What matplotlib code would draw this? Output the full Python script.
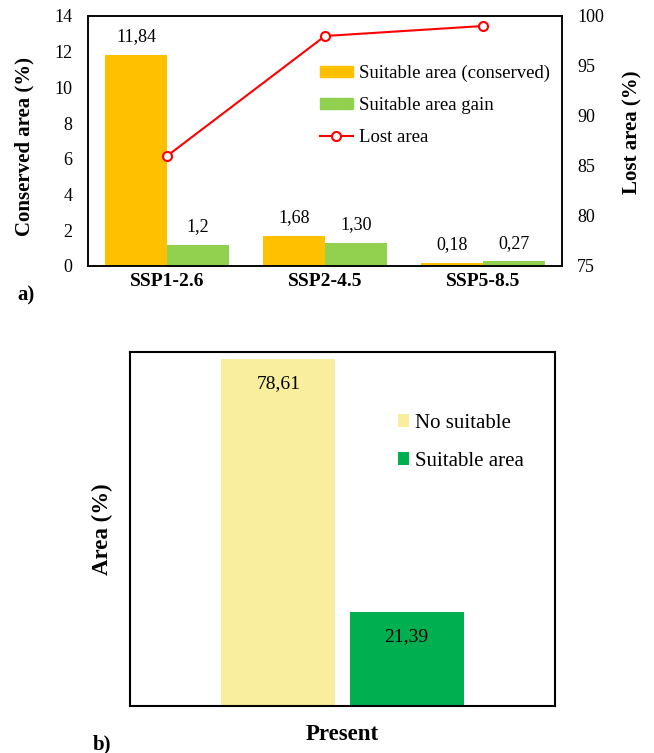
import matplotlib
matplotlib.use('Agg')
import matplotlib.pyplot as plt
from matplotlib.patches import Patch
from matplotlib.lines import Line2D

plt.rcParams['font.family'] = ['Liberation Serif', 'DejaVu Serif']

# panel a data
escenarios = ['SSP1-2.6', 'SSP2-4.5', 'SSP5-8.5']
conservada = [11.84, 1.68, 0.18]
ganancia = [1.2, 1.30, 0.27]
etiq_conservada = ['11,84', '1,68', '0,18']
etiq_ganancia = ['1,2', '1,30', '0,27']
perdida = [86, 98, 99]

# panel b data
presente = ['Present']
no_apto = [78.61]
apto = [21.39]
etiq_no_apto = ['78,61']
etiq_apto = ['21,39']

W, H = 654, 753
fig = plt.figure(figsize=(W / 100, H / 100), dpi=100)

# ---------- a) ----------
ax = fig.add_axes([88 / W, 1 - 266 / H, 474 / W, 250 / H])
ax2 = ax.twinx()

x = list(range(len(escenarios)))
bw = 0.39
b1 = ax.bar([i - bw / 2 for i in x], conservada, bw, color='#FFC000')
b2 = ax.bar([i + bw / 2 for i in x], ganancia, bw, color='#92D050')
for i in x:
    ax.annotate(etiq_conservada[i], (i - bw / 2, conservada[i]), xytext=(0, 13),
                textcoords='offset points', ha='center', va='center', fontsize=13)
    ax.annotate(etiq_ganancia[i], (i + bw / 2, ganancia[i]), xytext=(0, 13),
                textcoords='offset points', ha='center', va='center', fontsize=13)

ax2.plot(x, perdida, color='#FF0000', lw=1.5, marker='o', ms=6.5,
         mfc='white', mec='#FF0000', mew=1.5)

ax.set_xlim(-0.5, 2.5)
ax.set_ylim(0, 14)
ax.set_yticks(range(0, 15, 2))
ax2.set_ylim(75, 100)
ax2.set_yticks(range(75, 101, 5))
ax.set_xticks(x)
ax.set_xticklabels(escenarios, fontsize=14, fontweight='bold')
ax.tick_params(axis='y', length=0, pad=11, labelsize=13)
ax.tick_params(axis='x', length=0, pad=5)
ax2.tick_params(axis='y', length=0, pad=11, labelsize=13)
for a in (ax, ax2):
    for s in a.spines.values():
        s.set_linewidth(1.1)

ax.set_ylabel('Conserved area (%)', fontsize=15, fontweight='bold')
ax.yaxis.set_label_coords(-0.113, 0.48)
ax2.set_ylabel('Lost area (%)', fontsize=15, fontweight='bold')
ax2.yaxis.set_label_coords(1.127, 0.534)

handles = [Patch(color='#FFC000'), Patch(color='#92D050'),
           Line2D([], [], color='#FF0000', lw=1.5, marker='o', ms=6.5,
                  mfc='white', mec='#FF0000', mew=1.5)]
ax2.legend(handles, ['Suitable area (conserved)', 'Suitable area gain', 'Lost area'],
           loc='upper left', bbox_to_anchor=(320 / W, 1 - 65 / H),
           bbox_transform=fig.transFigure, frameon=False, fontsize=13.5,
           handlelength=1.75, handleheight=0.5, handletextpad=0.35,
           labelspacing=0.8, borderaxespad=0, borderpad=0)

fig.text(17 / W, 1 - 295 / H, 'a)', fontsize=15, fontweight='bold', va='center')

# ---------- b) ----------
bx = fig.add_axes([130 / W, 1 - 706 / H, 425 / W, 354 / H])
bw2 = 0.268
off = 0.151
bx.bar([-off], no_apto, bw2, color='#F9EE9E', label='No suitable')
bx.bar([off], apto, bw2, color='#00B050', label='Suitable area')
bx.annotate(etiq_no_apto[0], (-off, no_apto[0]), xytext=(0, -18),
            textcoords='offset points', ha='center', va='center', fontsize=14)
bx.annotate(etiq_apto[0], (off, apto[0]), xytext=(0, -18),
            textcoords='offset points', ha='center', va='center', fontsize=14)
bx.set_xlim(-0.5, 0.5)
bx.set_ylim(0, 80.2)
bx.set_yticks([])
bx.set_xticks([0])
bx.set_xticklabels(presente, fontsize=16.5, fontweight='bold')
bx.tick_params(axis='x', length=0, pad=13)
for s in bx.spines.values():
    s.set_linewidth(1.5)
bx.set_ylabel('Area (%)', fontsize=16.5, fontweight='bold')
bx.yaxis.set_label_coords(-0.04, 0.5)
bx.legend(loc='upper left', bbox_to_anchor=(398 / W, 1 - 414 / H),
          bbox_transform=fig.transFigure, frameon=False, fontsize=15,
          handlelength=0.55, handleheight=0.55, handletextpad=0.25,
          labelspacing=0.9, borderaxespad=0, borderpad=0)

fig.text(93 / W, 1 - 744 / H, 'b)', fontsize=15, fontweight='bold', va='center')

fig.savefig('out.png', dpi=100)
